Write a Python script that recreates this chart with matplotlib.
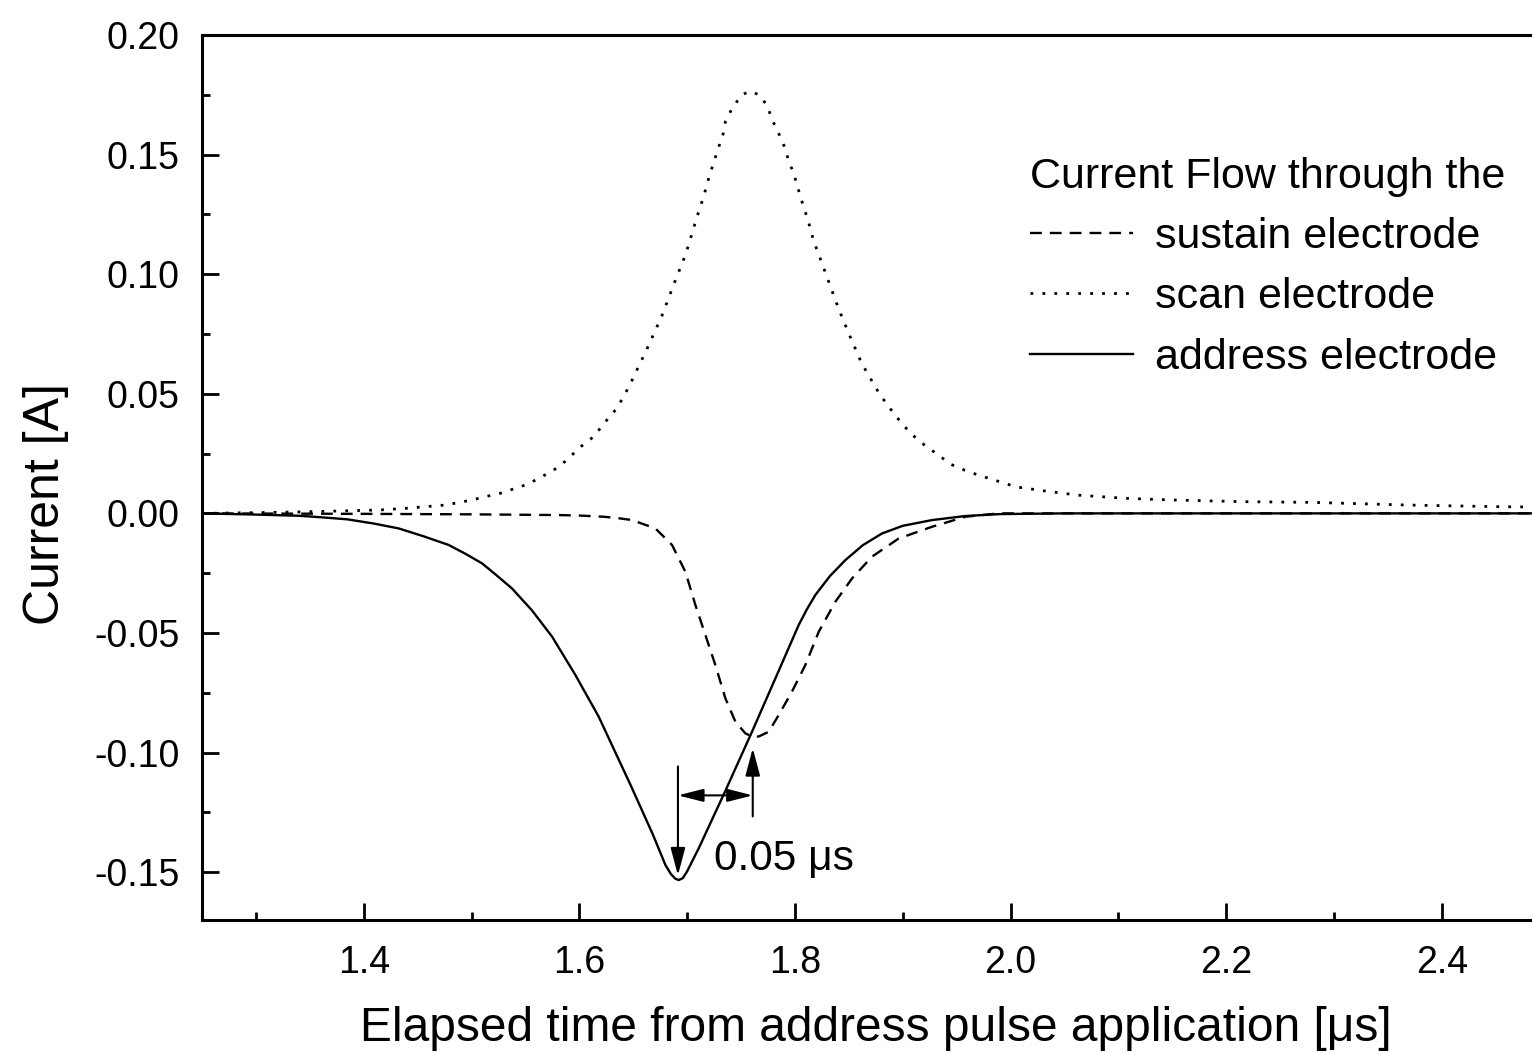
import matplotlib
matplotlib.use("Agg")
import matplotlib.pyplot as plt
from matplotlib.ticker import MultipleLocator, FormatStrFormatter
from matplotlib.lines import Line2D

plt.rcParams['font.family'] = ['Liberation Sans', 'DejaVu Sans']
plt.rcParams['axes.unicode_minus'] = False

# Elapsed time [us] and current [A] for each electrode
t_sustain = [1.25, 1.40, 1.50, 1.58, 1.600, 1.6226, 1.636, 1.6489, 1.6706, 1.686,
             1.6984, 1.7077, 1.717, 1.7262, 1.7355, 1.7448, 1.7541, 1.7600, 1.7664,
             1.7757, 1.785, 1.7973, 1.8097, 1.8221, 1.8376, 1.853, 1.8715, 1.8963,
             1.9272, 1.9582, 1.989, 2.05, 2.50]
i_sustain = [0.0, -0.0002, -0.0004, -0.0007, -0.0009, -0.0014, -0.0020, -0.0028, -0.0063,
             -0.0132, -0.0244, -0.0383, -0.0509, -0.0634, -0.0773, -0.0871, -0.0920, -0.0932,
             -0.0933, -0.0913, -0.0843, -0.0745, -0.0634, -0.0495, -0.0369, -0.0272, -0.0181,
             -0.0105, -0.0056, -0.0014, 0.0, 0.0, 0.0]

t_scan = [1.25, 1.30, 1.34, 1.3768, 1.4139, 1.4387, 1.4758, 1.5005, 1.5129, 1.5268,
          1.5515, 1.5623, 1.5763, 1.5886, 1.5994, 1.6134, 1.6242, 1.6335, 1.6412, 1.6489,
          1.662, 1.677, 1.687, 1.6978, 1.7015, 1.7052, 1.7092, 1.7133, 1.717, 1.7207,
          1.7247, 1.7287, 1.7331, 1.7355, 1.7417, 1.7509, 1.7590, 1.7665, 1.7741, 1.7788,
          1.785, 1.7903, 1.7942, 1.7989, 1.8026, 1.8066, 1.8106, 1.8144, 1.8174, 1.8221,
          1.8404, 1.8512, 1.862, 1.8772, 1.8858, 1.8967, 1.9074, 1.9204, 1.9334, 1.9442,
          1.9572, 1.9702, 1.9853, 2.0048, 2.033, 2.0633, 2.1067, 2.15, 2.2149, 2.2799,
          2.3666, 2.4529, 2.50]
i_scan = [0.0, 0.0003, 0.0006, 0.0010, 0.0014, 0.0021, 0.0035, 0.0056, 0.0070, 0.0084,
          0.0121, 0.0146, 0.0181, 0.0223, 0.0272, 0.0321, 0.0383, 0.0432, 0.0488, 0.0557,
          0.0680, 0.0830, 0.0950, 0.1073, 0.1124, 0.1180, 0.1240, 0.1296, 0.1351, 0.1412,
          0.1467, 0.1523, 0.1581, 0.1637, 0.1693, 0.1751, 0.1765, 0.1750, 0.1707, 0.1647,
          0.1588, 0.1533, 0.1474, 0.1421, 0.1363, 0.1303, 0.1247, 0.1191, 0.1138, 0.1083,
          0.0857, 0.0739, 0.0627, 0.0509, 0.0453, 0.0390, 0.0334, 0.0285, 0.0243, 0.0206,
          0.0181, 0.0160, 0.0139, 0.0111, 0.0093, 0.0076, 0.0063, 0.0056, 0.0049, 0.0046,
          0.0035, 0.0028, 0.0026]

t_address = [1.25, 1.30, 1.34, 1.36, 1.385, 1.41, 1.4325, 1.455, 1.4788, 1.494,
             1.5098, 1.523, 1.5376, 1.556, 1.5747, 1.5964, 1.618, 1.633, 1.648, 1.668,
             1.6799, 1.685, 1.689, 1.6922, 1.696, 1.700, 1.705, 1.7108, 1.7355, 1.7602,
             1.785, 1.8035, 1.811, 1.819, 1.8325, 1.8469, 1.863, 1.8808, 1.900, 1.9272,
             1.9582, 1.990, 2.050, 2.300, 2.500]
i_address = [0.0, -0.0005, -0.0010, -0.0016, -0.0025, -0.0043, -0.0063, -0.0095, -0.0132, -0.0168,
             -0.0209, -0.0258, -0.0314, -0.0405, -0.0515, -0.0676, -0.0850, -0.0995, -0.1140, -0.1340,
             -0.1470, -0.1508, -0.1527, -0.1533, -0.1525, -0.1497, -0.1452, -0.1400, -0.1160, -0.0913,
             -0.0658, -0.0467, -0.0402, -0.0341, -0.0262, -0.0195, -0.0133, -0.0084, -0.0052, -0.0028,
             -0.0011, -0.0003, 0.0, 0.0, 0.0]

# Delay between the address and sustain current minima
t_addr_min = 1.6915
t_sus_min = 1.7609
delay_label = "0.05 \u03bcs"

series_labels = ["sustain electrode", "scan electrode", "address electrode"]
legend_title = "Current Flow through the"

fig = plt.figure(figsize=(15.32, 10.54), dpi=100)
ax = fig.add_axes([202 / 1532, 134 / 1054, 1347.5 / 1532, 885 / 1054])

lw = 1.7
dash_style = (5, 3.4)
dot_style = (1.0, 3.3)
ax.plot(t_sustain, i_sustain, color='black', lw=lw, dashes=dash_style, dash_capstyle='butt')
ax.plot(t_scan, i_scan, color='black', lw=2.0, dashes=dot_style, dash_capstyle='butt')
ax.plot(t_address, i_address, color='black', lw=lw, solid_joinstyle='round')

ax.set_xlim(1.25, 2.5)
ax.set_ylim(-0.17, 0.20)
ax.xaxis.set_major_locator(MultipleLocator(0.2))
ax.xaxis.set_minor_locator(MultipleLocator(0.1))
ax.yaxis.set_major_locator(MultipleLocator(0.05))
ax.yaxis.set_minor_locator(MultipleLocator(0.025))
ax.xaxis.set_major_formatter(FormatStrFormatter('%.1f'))
ax.yaxis.set_major_formatter(FormatStrFormatter('%.2f'))

ax.tick_params(which='both', direction='in', top=False, right=False, width=2.0)
ax.tick_params(which='major', length=12, labelsize=27)
ax.tick_params(axis='y', which='major', pad=16)
ax.tick_params(axis='x', which='major', pad=18)
ax.tick_params(which='minor', length=6)
for s in ax.spines.values():
    s.set_linewidth(2.2)

ax.set_xlabel("Elapsed time from address pulse application [\u03bcs]", fontsize=34.5, labelpad=18)
ax.set_ylabel("Current [A]", fontsize=36)
ax.yaxis.set_label_coords(-0.099, 0.47)

# Delay annotation
arrow_kw = dict(color='black', lw=1.5, shrinkA=0, shrinkB=0, mutation_scale=28)
ax.annotate("", xy=(t_addr_min, -0.1513), xytext=(t_addr_min, -0.1058),
            arrowprops=dict(arrowstyle='-|>,head_length=0.6,head_width=0.16', **arrow_kw))
ax.annotate("", xy=(t_sus_min, -0.0982), xytext=(t_sus_min, -0.1267),
            arrowprops=dict(arrowstyle='-|>,head_length=0.6,head_width=0.16', **arrow_kw))
ax.annotate("", xy=(t_addr_min, -0.1179), xytext=(t_sus_min, -0.1179),
            arrowprops=dict(arrowstyle='<|-|>,head_length=0.55,head_width=0.14', **arrow_kw))
ax.text(1.725, -0.1445, delay_label, fontsize=30.5, ha='left', va='center')

handles = [
    Line2D([], [], color='black', lw=lw, dashes=dash_style, dash_capstyle='butt'),
    Line2D([], [], color='black', lw=2.0, dashes=dot_style, dash_capstyle='butt'),
    Line2D([], [], color='black', lw=lw),
]
leg = ax.legend(handles, series_labels, title=legend_title, loc='upper left',
                bbox_to_anchor=(1030 / 1532, 1 - 157 / 1054), bbox_transform=fig.transFigure,
                frameon=False, fontsize=31, title_fontsize=31, handlelength=2.4,
                handletextpad=0.5, labelspacing=0.47, borderpad=0, borderaxespad=0,
                alignment='left')

fig.savefig("out.png", dpi=100)
